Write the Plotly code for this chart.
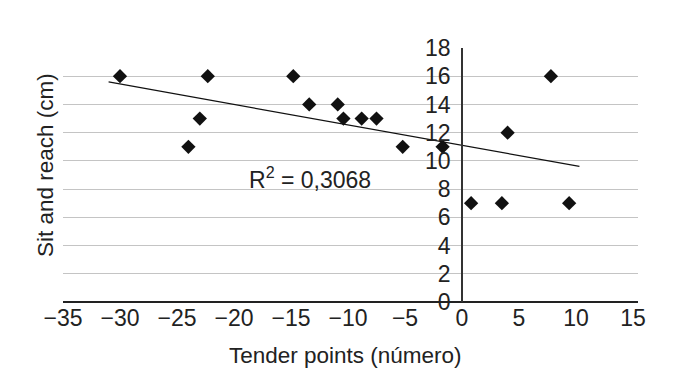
import numpy as np
import plotly.graph_objects as go

# Data
tender_points = [-30, -24, -23, -22.3, -14.8, -13.4, -10.9, -10.4, -8.8, -7.5, -5.2, -1.7, 0.8, 3.5, 4.0, 7.8, 9.4]
sit_and_reach = [16, 11, 13, 16, 16, 14, 14, 13, 13, 13, 11, 11, 7, 7, 12, 16, 7]

# Trendline as drawn in the reference
trend_x_range = [-31, 10.3]
trend_slope = -0.145
trend_intercept = 11.1
r2_text = "R<sup>2</sup> = 0,3068"

x_ticks = [-35, -30, -25, -20, -15, -10, -5, 0, 5, 10, 15]
x_tick_text = ["\u221235", "\u221230", "\u221225", "\u221220", "\u221215", "\u221210", "\u22125", "0", "5", "10", "15"]
y_ticks = [0, 2, 4, 6, 8, 10, 12, 14, 16, 18]
x_range = [-35, 15.44]
y_range = [0, 18]

FONT = "Liberation Sans, Arial, sans-serif"
TXT = "#222"

W, H = 700, 381
OFF = 8  # page body margin
L, R, T, B = 55, 70, 40, 87
plot_w = W - L - R
plot_h = H - T - B


def px_to_paper_x(px):
    return (px - OFF - L) / plot_w


def px_to_paper_y(py):
    return (H - B + OFF - py) / plot_h


fig = go.Figure()

tx = np.array(trend_x_range)
fig.add_trace(go.Scatter(
    x=tx, y=trend_slope * tx + trend_intercept,
    mode="lines", line=dict(color="#111", width=1.2),
    showlegend=False, hoverinfo="skip"))

fig.add_trace(go.Scatter(
    x=tender_points, y=sit_and_reach, mode="markers",
    marker=dict(symbol="diamond", size=11, color="#111"),
    showlegend=False))

fig.add_annotation(x=-18.9, y=8.8, text=r2_text, showarrow=False,
                   xanchor="left", yanchor="middle",
                   font=dict(family=FONT, size=23, color=TXT))

fig.add_annotation(x=px_to_paper_x(45), y=px_to_paper_y(165),
                   xref="paper", yref="paper", text="Sit and reach (cm)",
                   textangle=-90, showarrow=False,
                   xanchor="center", yanchor="middle",
                   font=dict(family=FONT, size=22.5, color=TXT))

fig.add_annotation(x=px_to_paper_x(345), y=px_to_paper_y(355),
                   xref="paper", yref="paper", text="Tender points (número)",
                   showarrow=False, xanchor="center", yanchor="middle",
                   font=dict(family=FONT, size=22.5, color=TXT))

fig.update_layout(
    width=W, height=H,
    margin=dict(l=L, r=R, t=T, b=B, autoexpand=False),
    paper_bgcolor="white", plot_bgcolor="white",
    font=dict(family=FONT, size=23, color=TXT),
    xaxis=dict(range=x_range, tickvals=x_ticks, ticktext=x_tick_text,
               showgrid=False, zeroline=False, showline=False,
               ticks="", ticklen=0, automargin=False),
    yaxis=dict(range=y_range, tickvals=y_ticks, showgrid=True,
               gridcolor="#c4c4c4", gridwidth=1, zeroline=True,
               zerolinecolor="#222", zerolinewidth=1.5,
               showline=True, linecolor="#333", linewidth=1.5,
               anchor="free", position=(0 - x_range[0]) / (x_range[1] - x_range[0]),
               ticks="", ticklabelstandoff=6, automargin=False),
)

fig.write_html("out.html")
